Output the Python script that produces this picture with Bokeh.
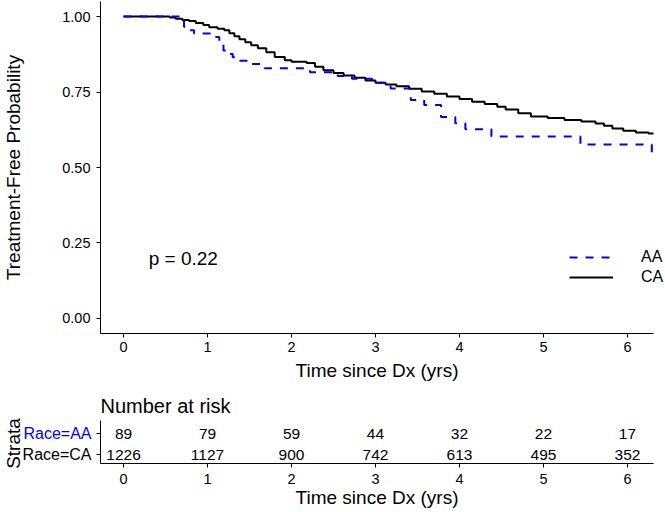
import math
from bokeh.plotting import figure
from bokeh.models import (Range1d, FixedTicker, NumeralTickFormatter, Legend,
                          LegendItem, Label, ColumnDataSource, LinearAxis)
from bokeh.layouts import column
from bokeh.embed import file_html
from bokeh.resources import INLINE
from bokeh.core.properties import value

FONT = "Liberation Sans"
BLUE = "#0000FF"

# ---------------- data ----------------
aa_time = [0, 0.68, 0.72, 0.80, 0.84, 1.10, 1.14, 1.19, 1.22, 1.30, 1.38, 1.52,
           1.68, 2.22, 2.55, 2.72, 2.96, 3.18, 3.42, 3.58, 3.78, 3.95, 4.07,
           4.38, 5.44, 6.29, 6.31]
aa_surv = [1.0, 0.989, 0.966, 0.955, 0.944, 0.932, 0.910, 0.888, 0.876, 0.865,
           0.854, 0.843, 0.829, 0.816, 0.803, 0.794, 0.781, 0.762, 0.724, 0.707,
           0.667, 0.647, 0.627, 0.603, 0.576, 0.546, 0.546]

ca_time = [0, 0.55, 0.62, 0.70, 0.78, 0.86, 0.95, 1.02, 1.12, 1.20, 1.26, 1.32,
           1.38, 1.45, 1.52, 1.60, 1.70, 1.80, 1.92, 2.00, 2.18, 2.28, 2.38,
           2.50, 2.62, 2.75, 2.88, 3.00, 3.12, 3.25, 3.40, 3.55, 3.70, 3.85,
           4.00, 4.15, 4.30, 4.45, 4.55, 4.70, 4.85, 5.05, 5.25, 5.45, 5.62,
           5.72, 5.82, 5.95, 6.10, 6.25, 6.31]
ca_surv = [1.0, 0.997, 0.993, 0.989, 0.985, 0.979, 0.972, 0.965, 0.960, 0.955,
           0.945, 0.935, 0.925, 0.915, 0.905, 0.895, 0.882, 0.866, 0.855, 0.850,
           0.846, 0.834, 0.822, 0.813, 0.805, 0.797, 0.788, 0.781, 0.775, 0.769,
           0.761, 0.752, 0.744, 0.735, 0.727, 0.718, 0.710, 0.701, 0.692, 0.680,
           0.669, 0.664, 0.657, 0.652, 0.646, 0.638, 0.629, 0.622, 0.616, 0.613,
           0.613]

x_ticks = [0, 1, 2, 3, 4, 5, 6]
y_ticks = [0, 0.25, 0.5, 0.75, 1.0]
legend_labels = ["AA", "CA"]
pval_text = "p = 0.22"
x_title = "Time since Dx (yrs)"
y_title = "Treatment-Free Probability"

table_title = "Number at risk"
strata_title = "Strata"
strata = ["Race=AA", "Race=CA"]
strata_colors = [BLUE, "black"]
strata_rows = [1, 0]
risk_aa = [89, 79, 59, 44, 32, 22, 17]
risk_ca = [1226, 1127, 900, 742, 613, 495, 352]

# ---------------- geometry ----------------
XR = (-0.274, 6.31)           # visible time axis
YR = (-0.05, 1.05)            # visible probability axis
W = 665
LEFT = 100                    # page x of the axes' left end
PX = 553 / (XR[1] - XR[0])    # px per year
PY = 332 / (YR[1] - YR[0])    # px per probability unit
H1 = 383                      # main figure height (page y 0..383)
H2 = 128                      # risk table height (page y 383..511)
ROW_PX = 21                   # risk table row spacing
X_MID = (XR[0] + XR[1]) / 2


def y1(page_y):               # page y -> main-plot data y
    return YR[1] - (page_y - 1) / PY


def y2(page_y):               # page y -> table data y (CA row at page 454)
    return (454 - page_y) / ROW_PX


def xpx(page_x):              # page x -> time
    return XR[0] + (page_x - LEFT) / PX


def style(p):
    for ax in p.axis:
        ax.axis_line_color = "black"
        ax.axis_line_width = 1
        ax.major_tick_line_color = "black"
        ax.major_tick_in = 0
        ax.major_tick_out = 4
        ax.minor_tick_line_color = None
        ax.major_label_text_font = FONT
        ax.major_label_text_font_size = "14.5px"
        ax.major_label_text_color = "black"
    p.xgrid.visible = False
    p.ygrid.visible = False
    p.outline_line_color = None
    p.background_fill_color = "white"
    p.border_fill_color = "white"
    p.frame_align = False


def text_label(p, x, y, text, size, color="black", align="center", angle=0.0):
    p.add_layout(Label(x=x, y=y, text=text, text_align=align,
                       text_baseline="middle", angle=angle, text_font=FONT,
                       text_font_size=size, text_color=color))


# ---------------- main survival plot ----------------
p1 = figure(width=W, height=H1,
            x_range=Range1d(xpx(0), xpx(W)),
            y_range=Range1d(y1(H1), y1(0)),
            output_backend="svg", toolbar_location=None,
            x_axis_location=None, y_axis_location=None, min_border=0)
xax1 = LinearAxis(fixed_location=YR[0], bounds=XR,
                  ticker=FixedTicker(ticks=x_ticks), major_label_standoff=4)
yax1 = LinearAxis(fixed_location=XR[0], bounds=YR,
                  ticker=FixedTicker(ticks=y_ticks),
                  formatter=NumeralTickFormatter(format="0.00"),
                  major_label_standoff=6)
p1.add_layout(xax1, "below")
p1.add_layout(yax1, "left")
style(p1)

r_ca = p1.step(ca_time, ca_surv, mode="after", line_color="black", line_width=2)
r_aa = p1.step(aa_time, aa_surv, mode="after", line_color=BLUE, line_width=2,
               line_dash="8 8")

p1.text(x=[0.3], y=[0.2], text=[pval_text], text_align="left",
        text_baseline="middle", text_font=value(FONT),
        text_font_size="19px", text_color="black")

text_label(p1, X_MID, y1(370), x_title, "19px")
text_label(p1, xpx(13), 0.5, y_title, "19px", angle=math.pi / 2)

legend = Legend(items=[LegendItem(label=legend_labels[0], renderers=[r_aa]),
                       LegendItem(label=legend_labels[1], renderers=[r_ca])],
                location=(569, H1 - 287), orientation="vertical",
                glyph_width=44, glyph_height=20, label_height=20, spacing=0,
                padding=0, margin=0, label_standoff=28, label_text_font=FONT,
                label_text_font_size="16px", label_text_color="black",
                background_fill_alpha=0, border_line_alpha=0)
p1.add_layout(legend)

# ---------------- risk table ----------------
p2 = figure(width=W, height=H2,
            x_range=Range1d(xpx(0), xpx(W)),
            y_range=Range1d(y2(H1 + H2), y2(H1)),
            output_backend="svg", toolbar_location=None,
            x_axis_location=None, y_axis_location=None, min_border=0)
xax2 = LinearAxis(fixed_location=y2(463), bounds=XR,
                  ticker=FixedTicker(ticks=x_ticks), major_label_standoff=6)
yax2 = LinearAxis(fixed_location=XR[0], bounds=(y2(463), y2(420)),
                  ticker=FixedTicker(ticks=strata_rows),
                  major_label_overrides={1: "", 0: ""})
p2.add_layout(xax2, "below")
p2.add_layout(yax2, "left")
style(p2)
yax2.major_label_text_font_size = "0px"
yax2.major_label_standoff = 0

for counts, row in zip([risk_aa, risk_ca], strata_rows):
    src = ColumnDataSource(dict(x=x_ticks, y=[row] * len(x_ticks),
                                t=[str(v) for v in counts]))
    p2.text(x="x", y="y", text="t", source=src, text_align="center",
            text_baseline="middle", text_font=value(FONT),
            text_font_size="15.5px", text_color="black")

for name, col, row in zip(strata, strata_colors, strata_rows):
    text_label(p2, xpx(91), row, name, "16px", color=col, align="right")

text_label(p2, XR[0], y2(405), table_title, "20px", align="left")
text_label(p2, xpx(13), y2(443), strata_title, "19px", angle=math.pi / 2)
text_label(p2, X_MID, y2(497), x_title, "19px")

layout = column(p1, p2, spacing=0)
open("out.html", "w").write(file_html(layout, INLINE))
